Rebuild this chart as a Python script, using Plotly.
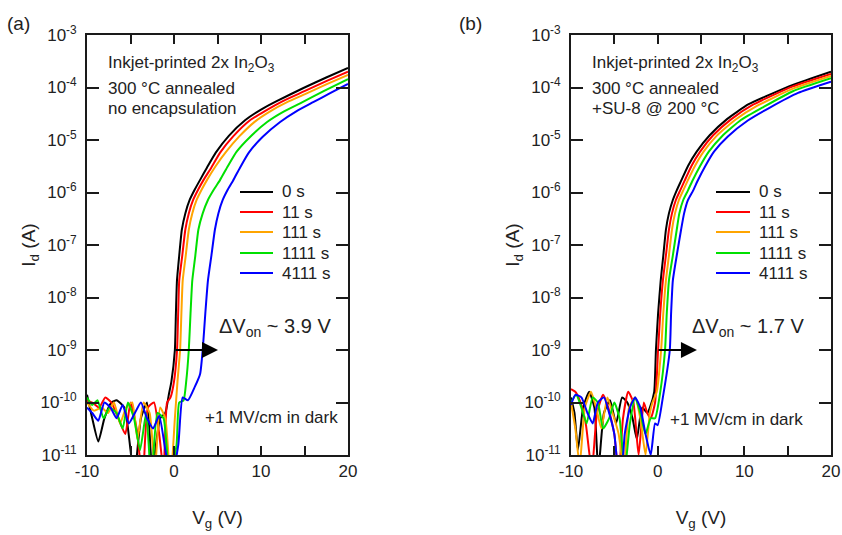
import plotly.graph_objects as go

# ---------------- data ----------------
series_labels = ["0 s", "11 s", "111 s", "1111 s", "4111 s"]
series_colors = ["#000000", "#ff0000", "#ffa500", "#00e000", "#0000ff"]

x_tickvals = [-10, -5, 0, 5, 10, 15, 20]
x_ticktext = ["-10", "", "0", "", "10", "", "20"]
y_tickvals = [1e-11, 1e-10, 1e-9, 1e-8, 1e-7, 1e-6, 1e-5, 1e-4, 1e-3]
y_ticktext = ["10<sup>-11</sup>", "10<sup>-10</sup>", "10<sup>-9</sup>", "10<sup>-8</sup>",
              "10<sup>-7</sup>", "10<sup>-6</sup>", "10<sup>-5</sup>", "10<sup>-4</sup>",
              "10<sup>-3</sup>"]

# Panel (a): no encapsulation  (Vg in V, Id in A)
vg_a_0 = [-10, -9.4, -8.7, -8.0, -7.2, -6.6, -5.7, -5.0, -4.6, -3.8, -3.1, -2.5, -1.6, -1.0,
          -0.6, -0.3, 0.1, 0.22, 0.34, 0.6, 0.9, 1.3, 1.8, 2.4, 3.0, 3.8, 4.8, 6.3, 8.2,
          10.0, 11.8, 15.0, 17.5, 20]
id_a_0 = [1.4e-10, 5.0e-11, 1.8e-11, 5.0e-11, 1.0e-10, 1.1e-10, 8.0e-11, 1.25e-11, 3.2e-12,
          5.0e-11, 1.0e-10, 5.0e-12, 5.0e-11, 6.3e-11, 1.4e-10, 2.5e-10, 1.0e-9, 5.0e-9,
          2.1e-8, 6.3e-8, 1.95e-7, 4.0e-7, 7.2e-7, 1.15e-6, 1.74e-6, 3.0e-6, 5.75e-6,
          1.2e-5, 2.4e-5, 3.8e-5, 5.5e-5, 1.0e-4, 1.55e-4, 2.35e-4]

vg_a_11 = [-10, -9.4, -8.6, -7.9, -7.2, -6.4, -5.6, -5.0, -4.3, -3.6, -3.0, -2.3, -1.7, -1.2,
           -0.8, -0.4, 0.0, 0.35, 0.48, 0.6, 0.95, 1.3, 1.7, 2.2, 2.8, 3.4, 4.3, 5.3, 6.8,
           8.7, 10.5, 12.4, 15.0, 17.5, 20]
id_a_11 = [1.1e-10, 1.0e-10, 8.0e-11, 1.25e-10, 1.0e-10, 5.0e-11, 2.5e-11, 1.0e-10, 3.2e-11,
           3.2e-12, 8.0e-11, 1.0e-10, 2.5e-11, 5.0e-12, 1.0e-10, 1.25e-10, 2.5e-10, 1.0e-9,
           5.0e-9, 2.1e-8, 6.3e-8, 1.95e-7, 4.0e-7, 7.2e-7, 1.15e-6, 1.74e-6, 3.0e-6,
           5.75e-6, 1.17e-5, 2.35e-5, 3.6e-5, 5.4e-5, 8.5e-5, 1.32e-4, 2.0e-4]

vg_a_111 = [-10, -9.2, -8.3, -7.6, -6.9, -6.2, -5.5, -4.8, -4.2, -3.5, -2.8, -2.2, -1.6, -1.0,
            -0.4, 0.1, 0.4, 0.7, 0.85, 1.0, 1.35, 1.7, 2.1, 2.6, 3.2, 3.8, 4.8, 6.0, 7.5,
            9.3, 11.1, 13.0, 15.0, 17.5, 20]
id_a_111 = [1.0e-10, 7.0e-11, 8.0e-11, 6.3e-11, 1.0e-10, 4.0e-11, 8.0e-11, 1.0e-10, 2.0e-11,
            1.0e-10, 6.3e-11, 5.0e-12, 8.0e-11, 5.0e-11, 3.2e-12, 5.0e-11, 2.5e-10, 1.0e-9,
            5.0e-9, 2.1e-8, 6.3e-8, 1.95e-7, 4.0e-7, 7.2e-7, 1.15e-6, 1.74e-6, 3.2e-6,
            6.0e-6, 1.17e-5, 2.24e-5, 3.55e-5, 5.25e-5, 7.4e-5, 1.15e-4, 1.74e-4]

vg_a_1111 = [-10, -9.4, -8.8, -8.1, -7.4, -6.6, -5.9, -5.3, -4.6, -3.9, -3.2, -2.6, -1.9, -1.2,
             -0.5, 0.3, 0.6, 1.1, 1.4, 1.7, 1.9, 2.1, 2.45, 2.8, 3.3, 3.9, 4.6, 5.3, 6.2,
             7.2, 8.8, 10.7, 12.6, 14.5, 17.2, 20]
id_a_1111 = [1.25e-10, 9.0e-11, 1.1e-10, 5.0e-11, 8.0e-11, 6.3e-11, 3.2e-11, 1.0e-10, 5.0e-11,
             1.25e-11, 6.3e-11, 3.2e-12, 6.3e-11, 5.0e-11, 3.2e-12, 1.6e-11, 1.0e-10, 1.1e-10,
             2.5e-10, 1.0e-9, 5.0e-9, 2.1e-8, 6.3e-8, 1.95e-7, 4.0e-7, 7.2e-7, 1.15e-6,
             1.74e-6, 3.2e-6, 6.0e-6, 1.17e-5, 2.2e-5, 3.47e-5, 5.0e-5, 8.5e-5, 1.45e-4]

vg_a_4111 = [-10, -9.4, -8.7, -8.0, -7.3, -6.6, -5.9, -5.2, -4.5, -3.8, -3.1, -2.4, -1.7, -1.0,
             -0.3, 0.5, 1.0, 1.6, 2.4, 3.0, 3.3, 3.6, 3.9, 4.3, 4.7, 5.1, 5.6, 6.2, 6.8, 7.6,
             8.6, 10.2, 12.2, 14.1, 16.0, 18.0, 20]
id_a_4111 = [8.0e-11, 6.3e-11, 4.5e-11, 1.0e-10, 8.0e-11, 5.0e-11, 9.0e-11, 4.0e-11, 6.3e-11,
             1.0e-10, 5.0e-11, 3.2e-11, 5.6e-11, 1.25e-11, 3.2e-12, 1.6e-11, 1.25e-10, 1.1e-10,
             2.0e-10, 3.5e-10, 1.0e-9, 5.0e-9, 2.1e-8, 6.3e-8, 1.95e-7, 4.0e-7, 7.2e-7,
             1.15e-6, 1.7e-6, 3.0e-6, 5.75e-6, 1.15e-5, 2.2e-5, 3.55e-5, 5.25e-5, 7.9e-5,
             1.17e-4]

# Panel (b): +SU-8 encapsulation  (Vg in V, Id in A)
vg_b_0 = [-10, -9.6, -9.2, -8.6, -7.9, -7.3, -6.85, -6.2, -5.5, -4.8, -4.1, -3.5, -2.9, -2.4,
          -1.8, -1.2, -0.9, -0.4, -0.2, 0.05, 0.35, 0.65, 0.95, 1.3, 1.75, 2.2, 2.7, 3.5,
          4.5, 6.0, 8.0, 10.5, 15.6, 20]
id_b_0 = [1.25e-10, 6.3e-11, 1.25e-11, 8.0e-11, 1.6e-10, 8.0e-11, 5.0e-12, 6.3e-11, 1.1e-10,
          4.0e-11, 1.25e-10, 1.0e-10, 5.0e-11, 2.0e-11, 8.0e-11, 6.3e-11, 8.0e-11, 1.6e-10,
          1.0e-9, 5.0e-9, 2.1e-8, 6.3e-8, 1.95e-7, 4.0e-7, 7.2e-7, 1.1e-6, 1.66e-6, 3.2e-6,
          6.0e-6, 1.23e-5, 2.5e-5, 4.8e-5, 1.12e-4, 2.0e-4]

vg_b_11 = [-10, -9.5, -8.9, -8.3, -7.6, -7.0, -6.3, -5.7, -5.0, -4.5, -4.0, -3.4, -2.8, -2.2,
           -1.6, -1.2, -0.8, -0.3, 0.05, 0.3, 0.6, 0.95, 1.3, 1.65, 2.1, 2.6, 3.1, 3.9, 4.9,
           6.4, 8.5, 11.0, 15.6, 20]
id_b_11 = [1.8e-10, 1.6e-10, 1.0e-10, 4.0e-11, 5.0e-12, 6.3e-11, 1.4e-10, 8.0e-11, 2.5e-11,
           4.0e-12, 5.0e-11, 1.6e-10, 1.0e-10, 1.0e-11, 1.0e-10, 6.3e-11, 5.0e-11, 1.0e-10,
           1.0e-9, 5.0e-9, 2.1e-8, 6.3e-8, 1.95e-7, 4.0e-7, 7.2e-7, 1.1e-6, 1.66e-6, 3.2e-6,
           6.0e-6, 1.23e-5, 2.5e-5, 4.7e-5, 1.05e-4, 1.82e-4]

vg_b_111 = [-10, -9.5, -9.0, -8.4, -7.7, -7.1, -6.5, -5.8, -5.2, -4.5, -3.9, -3.3, -2.6, -2.0,
            -1.4, -0.9, -0.6, -0.1, 0.4, 0.65, 0.95, 1.3, 1.65, 2.0, 2.45, 2.95, 3.45, 4.3,
            5.3, 6.8, 9.0, 11.5, 15.6, 20]
id_b_111 = [1.0e-10, 3.2e-11, 6.3e-12, 8.0e-11, 1.6e-10, 8.0e-11, 3.2e-11, 1.25e-10, 6.3e-11,
            2.5e-11, 5.0e-12, 8.0e-11, 1.25e-10, 5.0e-11, 1.0e-11, 6.3e-11, 1.0e-10, 1.6e-10,
            1.0e-9, 5.0e-9, 2.1e-8, 6.3e-8, 1.95e-7, 4.0e-7, 7.2e-7, 1.1e-6, 1.66e-6, 3.2e-6,
            6.0e-6, 1.2e-5, 2.45e-5, 4.5e-5, 9.5e-5, 1.66e-4]

vg_b_1111 = [-10, -9.4, -8.8, -8.2, -7.5, -6.9, -6.3, -5.6, -5.0, -4.4, -3.8, -3.2, -2.6, -2.0,
             -1.4, -0.8, -0.3, 0.3, 0.85, 1.05, 1.3, 1.75, 2.2, 2.5, 2.95, 3.5, 4.0, 4.9, 5.9,
             7.4, 9.6, 12.2, 15.6, 20]
id_b_1111 = [1.0e-10, 1.4e-10, 8.0e-11, 4.0e-11, 1.25e-10, 1.0e-10, 3.2e-11, 5.0e-11, 1.0e-10,
             5.0e-11, 5.0e-12, 4.0e-11, 1.25e-10, 6.3e-11, 2.5e-11, 5.0e-11, 5.0e-11, 1.6e-10,
             1.0e-9, 5.0e-9, 2.1e-8, 6.3e-8, 1.95e-7, 4.0e-7, 7.2e-7, 1.1e-6, 1.66e-6, 3.2e-6,
             6.0e-6, 1.17e-5, 2.4e-5, 4.25e-5, 8.5e-5, 1.5e-4]

vg_b_4111 = [-10, -9.5, -8.8, -8.1, -7.5, -6.9, -6.2, -5.6, -5.0, -4.5, -4.2, -3.8, -3.2, -2.6,
             -2.0, -1.4, -0.8, -0.3, 0.0, 0.6, 1.4, 1.55, 1.75, 2.2, 2.7, 3.05, 3.5, 4.1, 4.6,
             5.5, 6.5, 8.1, 10.4, 13.0, 16.2, 20]
id_b_4111 = [9.0e-11, 1.4e-10, 1.25e-10, 6.3e-11, 4.0e-11, 1.0e-10, 1.25e-10, 6.3e-11, 2.5e-11,
             5.0e-12, 5.0e-12, 2.5e-11, 8.0e-11, 1.25e-10, 8.0e-11, 2.5e-11, 1.0e-11, 4.0e-11,
             3.7e-11, 1.25e-10, 1.0e-9, 5.0e-9, 2.1e-8, 6.3e-8, 1.95e-7, 4.0e-7, 7.2e-7,
             1.1e-6, 1.66e-6, 3.2e-6, 6.0e-6, 1.17e-5, 2.35e-5, 4.2e-5, 7.9e-5, 1.29e-4]

panel_a = [(vg_a_0, id_a_0), (vg_a_11, id_a_11), (vg_a_111, id_a_111),
           (vg_a_1111, id_a_1111), (vg_a_4111, id_a_4111)]
panel_b = [(vg_b_0, id_b_0), (vg_b_11, id_b_11), (vg_b_111, id_b_111),
           (vg_b_1111, id_b_1111), (vg_b_4111, id_b_4111)]

# ---------------- figure ----------------
W, H = 842, 535
FONT = "Arial"
AX = "#1a1a1a"
TXT = "#222222"

fig = go.Figure()
for (vg, idv), lab, col in zip(panel_a, series_labels, series_colors):
    fig.add_trace(go.Scatter(x=vg, y=idv, mode="lines", name=lab, showlegend=False,
                             line=dict(color=col, width=2, shape="spline", smoothing=0.5),
                             xaxis="x", yaxis="y"))
for (vg, idv), lab, col in zip(panel_b, series_labels, series_colors):
    fig.add_trace(go.Scatter(x=vg, y=idv, mode="lines", name=lab, showlegend=False,
                             line=dict(color=col, width=2, shape="spline", smoothing=0.5),
                             xaxis="x2", yaxis="y2"))

def xax(domain, anchor):
    return dict(domain=domain, anchor=anchor, range=[-10, 20], tickmode="array",
                tickvals=x_tickvals, ticktext=x_ticktext, ticks="inside", ticklen=9,
                tickwidth=1.5, tickcolor=AX, showline=True, linecolor=AX, linewidth=1.8,
                mirror="ticks", showgrid=False, zeroline=False, automargin=False,
                tickfont=dict(family=FONT, size=17, color=TXT),
                title=dict(text="V<sub>g</sub> (V)", font=dict(family=FONT, size=19, color=TXT),
                           standoff=30))

def yax(domain, anchor):
    return dict(domain=domain, anchor=anchor, type="log", range=[-11, -3], tickmode="array",
                tickvals=y_tickvals, ticktext=y_ticktext, ticks="inside", ticklen=12,
                tickwidth=1.5, tickcolor=AX, showline=True, linecolor=AX, linewidth=1.8,
                mirror="ticks", showgrid=False, zeroline=False, ticklabelstandoff=5,
                automargin=False,
                tickfont=dict(family=FONT, size=17, color=TXT),
                title=dict(text="I<sub>d</sub> (A)", font=dict(family=FONT, size=19, color=TXT),
                           standoff=0))

ydom = [1 - 455 / H, 1 - 35 / H]
fig.update_layout(
    width=W, height=H, margin=dict(l=0, r=0, t=0, b=0, autoexpand=False),
    paper_bgcolor="white", plot_bgcolor="white",
    font=dict(family=FONT, size=16, color=TXT),
    xaxis=xax([87 / W, 348 / W], "y"),
    yaxis=yax(ydom, "x"),
    xaxis2=xax([571 / W, 831 / W], "y2"),
    yaxis2=yax(ydom, "x2"),
    showlegend=False,
)

ann = []
shapes = []
def txt(text, x, y, xref, yref, size=17, xanchor="left", yanchor="middle"):
    ann.append(dict(text=text, x=x, y=y, xref=xref, yref=yref, showarrow=False,
                    xanchor=xanchor, yanchor=yanchor,
                    font=dict(family=FONT, size=size, color=TXT)))

txt("(a)", 18 / W, 1 - 24 / H, "paper", "paper", size=19, xanchor="center")
txt("(b)", 470 / W, 1 - 24 / H, "paper", "paper", size=19, xanchor="center")

for xr, yr, third, dv_text, dvx, mvx, mvy in [
        ("x", "y", "no encapsulation", "ΔV<sub>on</sub> ~ 3.9 V", 4.94, 3.33, -10.28),
        ("x2", "y2", "+SU-8 @ 200 °C", "ΔV<sub>on</sub> ~ 1.7 V", 3.73, 1.19, -10.33)]:
    txt("Inkjet-printed 2x In<sub>2</sub>O<sub>3</sub>", -7.85, -3.55, xr, yr)
    txt("300 °C annealed", -7.85, -4.02, xr, yr)
    txt(third, -7.85, -4.40, xr, yr)
    txt(dv_text, dvx, -8.58, xr, yr, size=20)
    txt("+1 MV/cm in dark", mvx, mvy, xr, yr, size=17)

# arrows (ΔVon shift at 1 nA)
for xr, yr, tail, tip in [("x", "y", 0.0, 5.06), ("x2", "y2", -0.08, 4.53)]:
    ann.append(dict(x=tip, y=-9, ax=tail, ay=-9, xref=xr, yref=yr, axref=xr, ayref=yr,
                    showarrow=True, arrowhead=2, arrowsize=1.6, arrowwidth=2,
                    arrowcolor="#000", text=""))

# legends (one per panel)
legend_rows_px = [192, 212, 232, 253, 273]
for x0, x1, xt in [(240, 273, 280), (716, 750, 757)]:
    for lab, col, ypx in zip(series_labels, series_colors, legend_rows_px):
        yp = 1 - ypx / H
        shapes.append(dict(type="line", xref="paper", yref="paper", x0=x0 / W, x1=x1 / W,
                           y0=yp, y1=yp, line=dict(color=col, width=2)))
        txt(lab, xt / W, yp, "paper", "paper", size=17)

fig.update_layout(annotations=ann, shapes=shapes)
fig.write_html("out.html", config={"displayModeBar": False},
               post_script="document.body.style.margin='0';document.body.style.padding='0';")
